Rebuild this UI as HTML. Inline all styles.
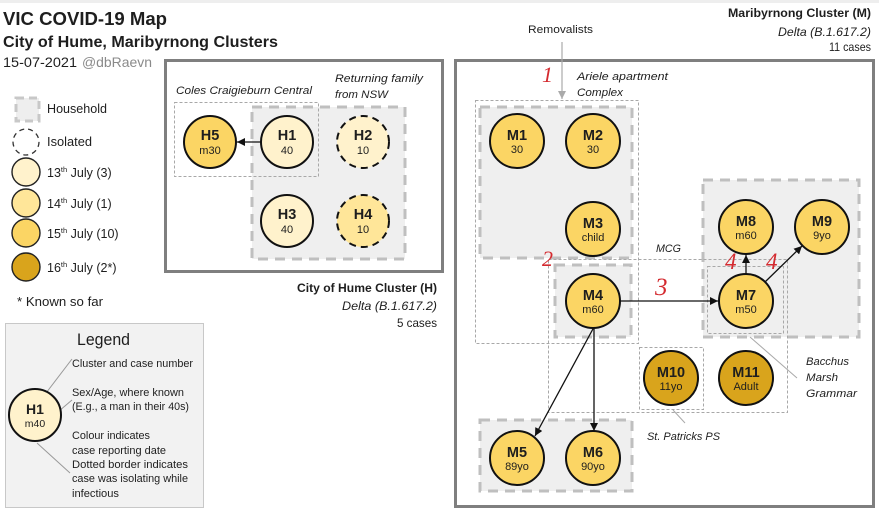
<!DOCTYPE html>
<html><head><meta charset="utf-8"><style>
html,body{margin:0;padding:0;background:#fff;}
svg{display:block;}
text{font-family:"Liberation Sans",sans-serif;fill:#1e1e1e;}
.b{font-weight:bold;}
.i{font-style:italic;}
.red{font-family:"Liberation Serif",serif;font-style:italic;fill:#d42a2f;}
</style></head><body>
<svg width="879" height="515" viewBox="0 0 879 515" xmlns="http://www.w3.org/2000/svg">
<defs>
<marker id="ah" viewBox="0 0 10 10" refX="10" refY="5" markerWidth="8" markerHeight="8" markerUnits="userSpaceOnUse" orient="auto"><path d="M0,0 L10,5 L0,10 z" fill="#111"/></marker>
<marker id="ahg" viewBox="0 0 10 10" refX="10" refY="5" markerWidth="8" markerHeight="8" markerUnits="userSpaceOnUse" orient="auto"><path d="M0,0 L10,5 L0,10 z" fill="#aaa"/></marker>
</defs>
<rect x="0" y="0" width="879" height="3" fill="#eee"/>

<!-- Titles -->
<text x="3" y="25" class="b" font-size="18" textLength="164" lengthAdjust="spacingAndGlyphs">VIC COVID-19 Map</text>
<text x="3" y="47" class="b" font-size="16" textLength="275" lengthAdjust="spacingAndGlyphs">City of Hume, Maribyrnong Clusters</text>
<text x="3" y="67" font-size="14" textLength="74" lengthAdjust="spacingAndGlyphs">15-07-2021</text>
<text x="82" y="67" font-size="14" fill="#8a8a8a" style="fill:#8a8a8a" textLength="70" lengthAdjust="spacingAndGlyphs">@dbRaevn</text>

<!-- Left legend -->
<rect x="16" y="98" width="23" height="23" fill="#eeeeee" stroke="#c8c8c8" stroke-width="3" stroke-dasharray="8 5"/>
<text x="47" y="113" font-size="12.5" textLength="60" lengthAdjust="spacingAndGlyphs">Household</text>
<circle cx="26" cy="142" r="13" fill="#fff" stroke="#333" stroke-width="1.3" stroke-dasharray="5 4"/>
<text x="47" y="146" font-size="12.5" textLength="45" lengthAdjust="spacingAndGlyphs">Isolated</text>
<circle cx="26" cy="172" r="14" fill="#fff2cc" stroke="#222" stroke-width="1.4"/>
<text x="47" y="177" font-size="12.5">13<tspan font-size="7.5" dy="-5">th</tspan><tspan dy="5"> July (3)</tspan></text>
<circle cx="26" cy="203" r="14" fill="#ffe699" stroke="#222" stroke-width="1.4"/>
<text x="47" y="208" font-size="12.5">14<tspan font-size="7.5" dy="-5">th</tspan><tspan dy="5"> July (1)</tspan></text>
<circle cx="26" cy="233" r="14" fill="#fbd564" stroke="#222" stroke-width="1.4"/>
<text x="47" y="238" font-size="12.5">15<tspan font-size="7.5" dy="-5">th</tspan><tspan dy="5"> July (10)</tspan></text>
<circle cx="26" cy="267" r="14" fill="#d9a41c" stroke="#222" stroke-width="1.4"/>
<text x="47" y="272" font-size="12.5">16<tspan font-size="7.5" dy="-5">th</tspan><tspan dy="5"> July (2*)</tspan></text>
<text x="17" y="306" font-size="12.5" textLength="86" lengthAdjust="spacingAndGlyphs">* Known so far</text>

<!-- Legend box -->
<rect x="5.5" y="323.5" width="198" height="184" fill="#f2f2f2" stroke="#c8c8c8" stroke-width="1"/>
<text x="77" y="345" font-size="17" textLength="53" lengthAdjust="spacingAndGlyphs">Legend</text>
<line x1="43" y1="397" x2="72" y2="359" stroke="#999" stroke-width="1"/>
<line x1="52" y1="417" x2="72" y2="400" stroke="#999" stroke-width="1"/>
<line x1="37" y1="443" x2="70" y2="473" stroke="#999" stroke-width="1"/>
<circle cx="35" cy="415" r="26" fill="#fff2cc" stroke="#111" stroke-width="2"/>
<text x="35" y="414" class="b" font-size="14" text-anchor="middle">H1</text>
<text x="35" y="427" font-size="10.5" text-anchor="middle">m40</text>
<g font-size="11">
<text x="72" y="367" textLength="121" lengthAdjust="spacingAndGlyphs">Cluster and case number</text>
<text x="72" y="396" textLength="112" lengthAdjust="spacingAndGlyphs">Sex/Age, where known</text>
<text x="72" y="410" textLength="117" lengthAdjust="spacingAndGlyphs">(E.g., a man in their 40s)</text>
<text x="72" y="439" textLength="78" lengthAdjust="spacingAndGlyphs">Colour indicates</text>
<text x="72" y="454" textLength="94" lengthAdjust="spacingAndGlyphs">case reporting date</text>
<text x="72" y="468" textLength="116" lengthAdjust="spacingAndGlyphs">Dotted border indicates</text>
<text x="72" y="482" textLength="116" lengthAdjust="spacingAndGlyphs">case was isolating while</text>
<text x="72" y="497" textLength="47" lengthAdjust="spacingAndGlyphs">infectious</text>
</g>

<!-- Hume cluster -->
<rect x="165.5" y="60.5" width="277" height="211" fill="#fff" stroke="#7f7f7f" stroke-width="3"/>
<rect x="252" y="107" width="153" height="152" fill="#efefef" stroke="#bfbfbf" stroke-width="3" stroke-dasharray="10 7"/>
<rect x="174.5" y="102.5" width="144" height="74" fill="none" stroke="#a8a8a8" stroke-width="1" stroke-dasharray="3 2"/>
<text x="176" y="94" class="i" font-size="11" textLength="136" lengthAdjust="spacingAndGlyphs">Coles Craigieburn Central</text>
<text x="335" y="82" class="i" font-size="11" textLength="88" lengthAdjust="spacingAndGlyphs">Returning family</text>
<text x="335" y="98" class="i" font-size="11" textLength="53" lengthAdjust="spacingAndGlyphs">from NSW</text>
<line x1="261" y1="142" x2="237" y2="142" stroke="#111" stroke-width="1.3" marker-end="url(#ah)"/>
<g stroke="#111" stroke-width="2">
<circle cx="210" cy="142" r="26" fill="#fbd564"/>
<circle cx="287" cy="142" r="26" fill="#fff2cc"/>
<circle cx="363" cy="142" r="26" fill="#fff2cc" stroke-dasharray="7 5"/>
<circle cx="287" cy="221" r="26" fill="#fff2cc"/>
<circle cx="363" cy="221" r="26" fill="#ffe699" stroke-dasharray="7 5"/>
</g>
<g text-anchor="middle">
<text x="210" y="140" class="b" font-size="14.5">H5</text><text x="210" y="154" font-size="11">m30</text>
<text x="287" y="140" class="b" font-size="14.5">H1</text><text x="287" y="154" font-size="11">40</text>
<text x="363" y="140" class="b" font-size="14.5">H2</text><text x="363" y="154" font-size="11">10</text>
<text x="287" y="219" class="b" font-size="14.5">H3</text><text x="287" y="233" font-size="11">40</text>
<text x="363" y="219" class="b" font-size="14.5">H4</text><text x="363" y="233" font-size="11">10</text>
</g>
<g font-size="12" text-anchor="end">
<text x="437" y="292" class="b" textLength="140" lengthAdjust="spacingAndGlyphs">City of Hume Cluster (H)</text>
<text x="437" y="310" class="i" textLength="95" lengthAdjust="spacingAndGlyphs">Delta (B.1.617.2)</text>
<text x="437" y="327" textLength="40" lengthAdjust="spacingAndGlyphs">5 cases</text>
</g>

<!-- Maribyrnong cluster -->
<g font-size="12" text-anchor="end">
<text x="871" y="17" class="b" textLength="143" lengthAdjust="spacingAndGlyphs">Maribyrnong Cluster (M)</text>
<text x="871" y="36" class="i" textLength="93" lengthAdjust="spacingAndGlyphs">Delta (B.1.617.2)</text>
<text x="871" y="51" textLength="42" lengthAdjust="spacingAndGlyphs">11 cases</text>
</g>
<text x="528" y="33" font-size="11" textLength="65" lengthAdjust="spacingAndGlyphs">Removalists</text>
<rect x="455.5" y="60.5" width="418" height="446" fill="#fff" stroke="#7f7f7f" stroke-width="3"/>
<line x1="562" y1="42" x2="562" y2="99" stroke="#aaa" stroke-width="1.2" marker-end="url(#ahg)"/>

<!-- households -->
<rect x="480" y="107" width="152" height="151" fill="#efefef" stroke="#bfbfbf" stroke-width="3" stroke-dasharray="10 7"/>
<rect x="555" y="265" width="76" height="72" fill="#efefef" stroke="#bfbfbf" stroke-width="3" stroke-dasharray="10 7"/>
<rect x="703" y="180" width="156" height="157" fill="#efefef" stroke="#bfbfbf" stroke-width="3" stroke-dasharray="10 7"/>
<rect x="480" y="420" width="152" height="71" fill="#efefef" stroke="#bfbfbf" stroke-width="3" stroke-dasharray="10 7"/>

<!-- thin dotted boxes -->
<g fill="none" stroke="#a8a8a8" stroke-width="1" stroke-dasharray="3 2">
<rect x="475.5" y="100.5" width="163" height="243"/>
<rect x="548.5" y="259.5" width="239" height="153"/>
<rect x="707.5" y="266.5" width="76" height="67"/>
<rect x="639.5" y="347.5" width="64" height="62"/>
</g>
<line x1="750" y1="337" x2="797" y2="378" stroke="#aaa" stroke-width="1"/>
<line x1="673" y1="410" x2="685" y2="423" stroke="#aaa" stroke-width="1"/>

<text x="577" y="80" class="i" font-size="11" textLength="91" lengthAdjust="spacingAndGlyphs">Ariele apartment</text>
<text x="577" y="96" class="i" font-size="11" textLength="46" lengthAdjust="spacingAndGlyphs">Complex</text>
<text x="656" y="252" class="i" font-size="11" textLength="25" lengthAdjust="spacingAndGlyphs">MCG</text>
<text x="806" y="365" class="i" font-size="11" textLength="43" lengthAdjust="spacingAndGlyphs">Bacchus</text>
<text x="806" y="381" class="i" font-size="11" textLength="32" lengthAdjust="spacingAndGlyphs">Marsh</text>
<text x="806" y="397" class="i" font-size="11" textLength="51" lengthAdjust="spacingAndGlyphs">Grammar</text>
<text x="647" y="440" class="i" font-size="11" textLength="73" lengthAdjust="spacingAndGlyphs">St. Patricks PS</text>

<!-- red numbers -->
<text x="542" y="82" class="red" font-size="22">1</text>
<text x="542" y="266" class="red" font-size="22">2</text>
<text x="655" y="295" class="red" font-size="25">3</text>
<text x="725" y="269" class="red" font-size="23">4</text>
<text x="766" y="269" class="red" font-size="23">4</text>

<!-- arrows -->
<g stroke="#111" stroke-width="1.3" marker-end="url(#ah)">
<line x1="620" y1="301" x2="718" y2="301"/>
<line x1="746" y1="274" x2="746" y2="255"/>
<line x1="765" y1="282" x2="802" y2="246"/>
<line x1="594" y1="327" x2="535" y2="436"/>
<line x1="594" y1="327" x2="594" y2="431"/>
</g>

<!-- M circles -->
<g stroke="#111" stroke-width="2">
<circle cx="517" cy="141" r="27" fill="#fbd564"/>
<circle cx="593" cy="141" r="27" fill="#fbd564"/>
<circle cx="593" cy="229" r="27" fill="#fbd564"/>
<circle cx="746" cy="227" r="27" fill="#fbd564"/>
<circle cx="822" cy="227" r="27" fill="#fbd564"/>
<circle cx="593" cy="301" r="27" fill="#fbd564"/>
<circle cx="746" cy="301" r="27" fill="#fbd564"/>
<circle cx="671" cy="378" r="27" fill="#d9a41c"/>
<circle cx="746" cy="378" r="27" fill="#d9a41c"/>
<circle cx="517" cy="458" r="27" fill="#fbd564"/>
<circle cx="593" cy="458" r="27" fill="#fbd564"/>
</g>
<g text-anchor="middle">
<text x="517" y="140" class="b" font-size="14.5">M1</text><text x="517" y="153" font-size="11">30</text>
<text x="593" y="140" class="b" font-size="14.5">M2</text><text x="593" y="153" font-size="11">30</text>
<text x="593" y="228" class="b" font-size="14.5">M3</text><text x="593" y="241" font-size="11">child</text>
<text x="746" y="226" class="b" font-size="14.5">M8</text><text x="746" y="239" font-size="11">m60</text>
<text x="822" y="226" class="b" font-size="14.5">M9</text><text x="822" y="239" font-size="11">9yo</text>
<text x="593" y="300" class="b" font-size="14.5">M4</text><text x="593" y="313" font-size="11">m60</text>
<text x="746" y="300" class="b" font-size="14.5">M7</text><text x="746" y="313" font-size="11">m50</text>
<text x="671" y="377" class="b" font-size="14.5">M10</text><text x="671" y="390" font-size="11">11yo</text>
<text x="746" y="377" class="b" font-size="14.5">M11</text><text x="746" y="390" font-size="11">Adult</text>
<text x="517" y="457" class="b" font-size="14.5">M5</text><text x="517" y="470" font-size="11">89yo</text>
<text x="593" y="457" class="b" font-size="14.5">M6</text><text x="593" y="470" font-size="11">90yo</text>
</g>
</svg>
</body></html>
